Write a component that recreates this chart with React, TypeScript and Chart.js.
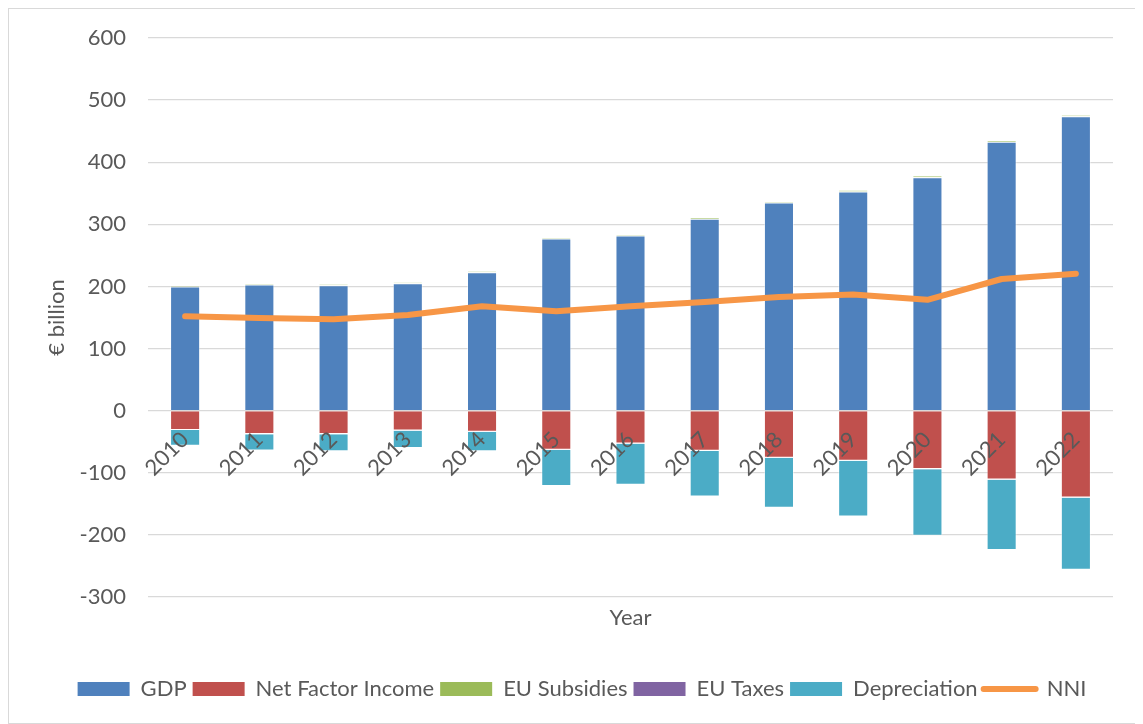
import React, { useEffect, useRef } from "react";
import { Chart, registerables } from "chart.js";
Chart.register(...registerables);

const years = ["2010", "2011", "2012", "2013", "2014", "2015", "2016", "2017", "2018", "2019", "2020", "2021", "2022"];
const gdp = [200, 203, 202, 205, 223, 277, 282, 309, 335, 353, 376, 433, 474];
const netFactorIncome = [-31, -37.5, -37.5, -32, -34, -63, -53, -64.5, -76, -80.5, -94, -111, -140];
const euSubsidies = [1.5, 1.5, 1.5, 1.5, 1.5, 2, 2, 2, 2, 2, 2, 2, 2];
const euTaxes = [-0.3, -0.3, -0.3, -0.3, -0.3, -0.3, -0.3, -0.3, -0.3, -0.3, -0.3, -0.3, -0.3];
const depreciation = [-25, -26.5, -27.5, -28, -31, -58, -66, -73.5, -80, -89.5, -107, -113, -116];
const nni = [152, 149, 147, 154, 168, 160, 168, 175, 183, 187, 178.5, 212, 220.5];
const yTicks = [-300, -200, -100, 0, 100, 200, 300, 400, 500, 600];

const TEXT = "#595959";
const FONT = "Lato";
const FS = 22;

const legendShift = {
  id: "legendShift",
  afterLayout(chart: any) {
    const l = chart.legend;
    if (l) {
      l.left += 21;
      l.right += 21;
    }
  },
};

export default function App() {
  const ref = useRef<HTMLCanvasElement>(null);
  useEffect(() => {
    const barDs = (label: string, data: number[], color: string) => ({
      type: "bar" as const,
      label,
      data,
      backgroundColor: color,
      borderColor: "rgba(255,255,255,0.45)",
      borderWidth: 1,
      stack: "s",
      order: 1,
      categoryPercentage: 1,
      barPercentage: 0.405,
    });
    const chart = new Chart(ref.current!, {
      type: "bar",
      data: {
        labels: years,
        datasets: [
          barDs("GDP", gdp, "#4F81BD"),
          barDs("Net Factor Income", netFactorIncome, "#C0504D"),
          barDs("EU Subsidies", euSubsidies, "#9BBB59"),
          barDs("EU Taxes", euTaxes, "#8064A2"),
          barDs("Depreciation", depreciation, "#4BACC6"),
          {
            type: "line" as const,
            label: "NNI",
            data: nni,
            borderColor: "#F79646",
            backgroundColor: "#F79646",
            borderWidth: 6,
            borderCapStyle: "round",
            borderJoinStyle: "round",
            pointRadius: 0,
            pointHoverRadius: 0,
            tension: 0,
            stack: "line",
            order: 0,
          } as any,
        ],
      },
      plugins: [legendShift],
      options: {
        responsive: false,
        animation: false,
        layout: { padding: { top: 29, right: 28, bottom: 13, left: 0 } },
        font: { family: FONT, size: FS },
        scales: {
          x: {
            type: "category",
            stacked: true,
            position: { y: 0 } as any,
            grid: { display: false, drawTicks: false },
            border: { display: false },
            ticks: {
              z: 1,
              color: TEXT,
              font: { family: FONT, size: FS },
              minRotation: 45,
              maxRotation: 45,
              padding: 16,
              autoSkip: false,
            },
          },
          x2: {
            type: "category",
            position: "bottom",
            grid: { display: false, drawTicks: false },
            border: { display: false },
            ticks: { display: false },
            title: {
              display: true,
              text: "Year",
              color: TEXT,
              font: { family: FONT, size: FS },
              padding: { top: 8, bottom: 41 },
            },
            afterFit: (s: any) => {
              s.height = 75;
            },
          },
          y: {
            stacked: true,
            min: -300,
            max: 600,
            afterBuildTicks: (s: any) => {
              s.ticks = yTicks.map((v) => ({ value: v }));
            },
            grid: { color: "#d9d9d9", lineWidth: 1.3, drawTicks: false },
            border: { display: false },
            ticks: {
              color: TEXT,
              font: { family: FONT, size: FS },
              padding: 22,
            },
            title: {
              display: true,
              text: "€ billion",
              color: TEXT,
              font: { family: FONT, size: FS },
              padding: { top: 35, bottom: 0 },
            },
            afterFit: (s: any) => {
              s.width = 139;
              s.paddingTop = 13;
              s.paddingBottom = 13;
            },
          },
        },
        plugins: {
          tooltip: { enabled: false },
          legend: {
            position: "bottom",
            labels: {
              usePointStyle: true,
              pointStyleWidth: 52,
              boxHeight: 14,
              padding: 6,
              color: TEXT,
              font: { family: FONT, size: FS },
              sort: (a: any, b: any) => a.datasetIndex - b.datasetIndex,
              generateLabels: (c: any) => {
                const items = Chart.defaults.plugins.legend.labels.generateLabels(c);
                return items.map((it: any) => {
                  if (it.text === "NNI") {
                    return { ...it, pointStyle: "line", lineWidth: 6, strokeStyle: "#F79646", lineCap: "round" };
                  }
                  return { ...it, pointStyle: "rect", lineWidth: 0 };
                });
              },
            },
          },
        },
      } as any,
    });
    return () => chart.destroy();
  }, []);
  return (
    <div style={{ width: 1132, height: 714, border: "1px solid #d9d9d9", background: "#fff" }}>
      <canvas ref={ref} width={1132} height={714} style={{ display: "block" }} />
    </div>
  );
}
